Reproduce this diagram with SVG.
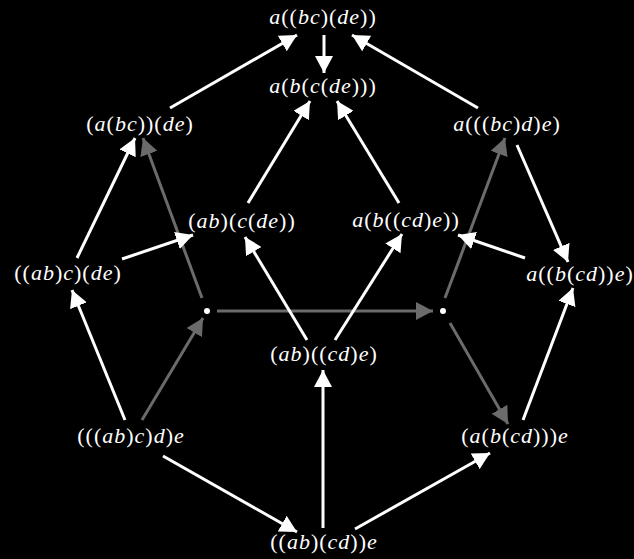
<svg xmlns="http://www.w3.org/2000/svg" width="634" height="559" viewBox="0 0 634 559">
<style>
.lbl{font-family:"Liberation Serif","Times New Roman",serif;font-size:22px;fill:#fff;text-anchor:middle;letter-spacing:1px}
.i{font-style:italic}
.w{stroke:#fff;stroke-width:3;fill:none;marker-end:url(#aw)}
.g{stroke:#6b6b6b;stroke-width:3;fill:none;marker-end:url(#ag)}
</style>
<defs>
<marker id="aw" markerUnits="userSpaceOnUse" markerWidth="18" markerHeight="18" refX="17" refY="9" orient="auto"><path d="M0,0 L17,9 L0,18 z" fill="#fff"/></marker>
<marker id="ag" markerUnits="userSpaceOnUse" markerWidth="18" markerHeight="18" refX="17" refY="9" orient="auto"><path d="M0,0 L17,9 L0,18 z" fill="#6b6b6b"/></marker>
</defs>
<rect width="634" height="559" fill="#000"/>
<g id="connectors">
<line class="g" x1="202" y1="298" x2="143" y2="138"/>
<line class="g" x1="445" y1="298" x2="505" y2="138"/>
<line class="g" x1="217" y1="311" x2="433" y2="311"/>
<line class="g" x1="450" y1="323" x2="508" y2="424"/>
<line class="g" x1="142" y1="420" x2="203" y2="318"/>
<line class="w" x1="170" y1="108" x2="297" y2="35"/>
<line class="w" x1="324" y1="35" x2="324" y2="73"/>
<line class="w" x1="478" y1="108" x2="352" y2="35"/>
<line class="w" x1="248" y1="203" x2="310" y2="101"/>
<line class="w" x1="399" y1="203" x2="337" y2="101"/>
<line class="w" x1="77" y1="258" x2="135" y2="138"/>
<line class="w" x1="122" y1="259" x2="193" y2="235"/>
<line class="w" x1="307" y1="340" x2="245" y2="237"/>
<line class="w" x1="335" y1="340" x2="402" y2="234"/>
<line class="w" x1="525" y1="258" x2="458" y2="235"/>
<line class="w" x1="517" y1="145" x2="568" y2="262"/>
<line class="w" x1="523" y1="420" x2="573" y2="288"/>
<line class="w" x1="125" y1="420" x2="72" y2="290"/>
<line class="w" x1="323" y1="528" x2="323" y2="370"/>
<line class="w" x1="163" y1="456" x2="297" y2="532"/>
<line class="w" x1="355" y1="529" x2="490" y2="453"/>
</g>
<g id="n-a-bc-de"><text class="lbl" x="323" y="24"><tspan class="i">a</tspan>((<tspan class="i">bc</tspan>)(<tspan class="i">de</tspan>))</text></g>
<g id="n-a-b-c-de"><text class="lbl" x="323" y="93"><tspan class="i">a</tspan>(<tspan class="i">b</tspan>(<tspan class="i">c</tspan>(<tspan class="i">de</tspan>)))</text></g>
<g id="n-abc-de"><text class="lbl" x="140" y="131">(<tspan class="i">a</tspan>(<tspan class="i">bc</tspan>))(<tspan class="i">de</tspan>)</text></g>
<g id="n-a-bcd-e"><text class="lbl" x="507" y="131"><tspan class="i">a</tspan>(((<tspan class="i">bc</tspan>)<tspan class="i">d</tspan>)<tspan class="i">e</tspan>)</text></g>
<g id="n-ab-c-de"><text class="lbl" x="242" y="228">(<tspan class="i">ab</tspan>)(<tspan class="i">c</tspan>(<tspan class="i">de</tspan>))</text></g>
<g id="n-a-b-cd-e"><text class="lbl" x="406" y="227"><tspan class="i">a</tspan>(<tspan class="i">b</tspan>((<tspan class="i">cd</tspan>)<tspan class="i">e</tspan>))</text></g>
<g id="n-abc-de2"><text class="lbl" x="68" y="280">((<tspan class="i">ab</tspan>)<tspan class="i">c</tspan>)(<tspan class="i">de</tspan>)</text></g>
<g id="n-a-b-cd-e2"><text class="lbl" x="580" y="281"><tspan class="i">a</tspan>((<tspan class="i">b</tspan>(<tspan class="i">cd</tspan>))<tspan class="i">e</tspan>)</text></g>
<g id="n-dot-left"><circle cx="207" cy="311" r="3" fill="#fff"/></g>
<g id="n-dot-right"><circle cx="443" cy="311" r="3" fill="#fff"/></g>
<g id="n-ab-cd-e"><text class="lbl" x="324" y="361">(<tspan class="i">ab</tspan>)((<tspan class="i">cd</tspan>)<tspan class="i">e</tspan>)</text></g>
<g id="n-abcd-e"><text class="lbl" x="131" y="443">(((<tspan class="i">ab</tspan>)<tspan class="i">c</tspan>)<tspan class="i">d</tspan>)<tspan class="i">e</tspan></text></g>
<g id="n-a-b-cd--e"><text class="lbl" x="515" y="443">(<tspan class="i">a</tspan>(<tspan class="i">b</tspan>(<tspan class="i">cd</tspan>)))<tspan class="i">e</tspan></text></g>
<g id="n-ab-cd--e"><text class="lbl" x="324" y="549">((<tspan class="i">ab</tspan>)(<tspan class="i">cd</tspan>))<tspan class="i">e</tspan></text></g>
</svg>
